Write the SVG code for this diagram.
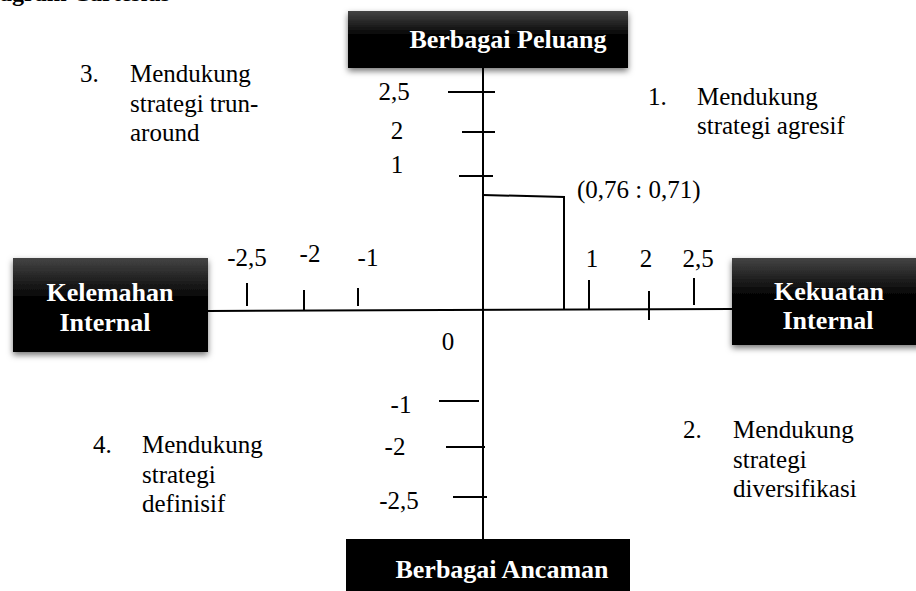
<svg xmlns="http://www.w3.org/2000/svg" width="916" height="591" viewBox="0 0 916 591">
<defs>
<linearGradient id="boxg" x1="0" y1="0" x2="0" y2="1">
<stop offset="0" stop-color="#444"/>
<stop offset="0.45" stop-color="#000"/>
<stop offset="1" stop-color="#000"/>
</linearGradient>
<filter id="sh" x="-10%" y="-20%" width="120%" height="150%">
<feDropShadow dx="0" dy="3" stdDeviation="3" flood-color="#000" flood-opacity="0.55"/>
</filter>
</defs>
<style>
text{font-family:"Liberation Serif","Times New Roman",serif;fill:#000}
.t{font-size:25px}
.b{font-size:26px;font-weight:bold;fill:#fff}
.ln{stroke:#000;stroke-width:2;fill:none}
.box{fill:url(#boxg);filter:url(#sh)}
</style>
<rect width="916" height="591" fill="#fff"/>
<text x="170" y="1" text-anchor="end" style="font-size:24px;font-weight:bold">Diagram Cartesius</text>

<g id="connectors">
<line class="ln" x1="483" y1="68" x2="483" y2="539"/>
<line class="ln" x1="208" y1="311" x2="732" y2="309"/>
<line class="ln" x1="448" y1="92" x2="495" y2="92"/>
<line class="ln" x1="462" y1="132" x2="495" y2="132"/>
<line class="ln" x1="459" y1="176" x2="493" y2="176"/>
<line class="ln" x1="439" y1="401" x2="479" y2="401"/>
<line class="ln" x1="446" y1="447" x2="485" y2="447"/>
<line class="ln" x1="453" y1="497" x2="487" y2="497"/>
<line class="ln" x1="247" y1="283" x2="247" y2="306"/>
<line class="ln" x1="304" y1="290" x2="304" y2="311"/>
<line class="ln" x1="358" y1="288" x2="358" y2="306"/>
<line class="ln" x1="589" y1="280" x2="589" y2="309"/>
<line class="ln" x1="649" y1="291" x2="649" y2="320"/>
<line class="ln" x1="694" y1="278" x2="694" y2="305"/>
<polyline class="ln" points="483,195 564,197 564,310"/>
</g>

<g id="node-peluang">
<rect class="box" x="348" y="11" width="280" height="57"/>
<text class="b" x="508" y="48" text-anchor="middle">Berbagai Peluang</text>
</g>
<g id="node-ancaman">
<rect x="346" y="539" width="284" height="60" fill="#000"/>
<text class="b" x="502" y="578" text-anchor="middle">Berbagai Ancaman</text>
</g>
<g id="node-kelemahan">
<rect class="box" x="13" y="258" width="195" height="94"/>
<text class="b" x="110" y="301" text-anchor="middle">Kelemahan</text>
<text class="b" x="105" y="331" text-anchor="middle">Internal</text>
</g>
<g id="node-kekuatan">
<rect class="box" x="732" y="258" width="190" height="87"/>
<text class="b" x="829" y="300" text-anchor="middle">Kekuatan</text>
<text class="b" x="828" y="329" text-anchor="middle">Internal</text>
</g>

<g id="labels">
<text class="t" x="394" y="100" text-anchor="middle">2,5</text>
<text class="t" x="397" y="139" text-anchor="middle">2</text>
<text class="t" x="397" y="173" text-anchor="middle">1</text>
<text class="t" x="577" y="198">(0,76 : 0,71)</text>
<text class="t" x="247" y="266" text-anchor="middle">-2,5</text>
<text class="t" x="310" y="262" text-anchor="middle">-2</text>
<text class="t" x="368" y="266" text-anchor="middle">-1</text>
<text class="t" x="592" y="267" text-anchor="middle">1</text>
<text class="t" x="646" y="267" text-anchor="middle">2</text>
<text class="t" x="698" y="267" text-anchor="middle">2,5</text>
<text class="t" x="448" y="350" text-anchor="middle">0</text>
<text class="t" x="401" y="413" text-anchor="middle">-1</text>
<text class="t" x="395" y="455" text-anchor="middle">-2</text>
<text class="t" x="399" y="509" text-anchor="middle">-2,5</text>
</g>

<g id="quadrant-3">
<text class="t" x="80" y="82">3.</text>
<text class="t" x="130" y="82">Mendukung</text>
<text class="t" x="130" y="112">strategi trun-</text>
<text class="t" x="130" y="141">around</text>
</g>
<g id="quadrant-1">
<text class="t" x="648" y="105">1.</text>
<text class="t" x="697" y="105">Mendukung</text>
<text class="t" x="697" y="134">strategi agresif</text>
</g>
<g id="quadrant-4">
<text class="t" x="93" y="453">4.</text>
<text class="t" x="142" y="453">Mendukung</text>
<text class="t" x="142" y="483">strategi</text>
<text class="t" x="142" y="512">definisif</text>
</g>
<g id="quadrant-2">
<text class="t" x="683" y="438">2.</text>
<text class="t" x="733" y="438">Mendukung</text>
<text class="t" x="733" y="468">strategi</text>
<text class="t" x="733" y="497">diversifikasi</text>
</g>
</svg>
